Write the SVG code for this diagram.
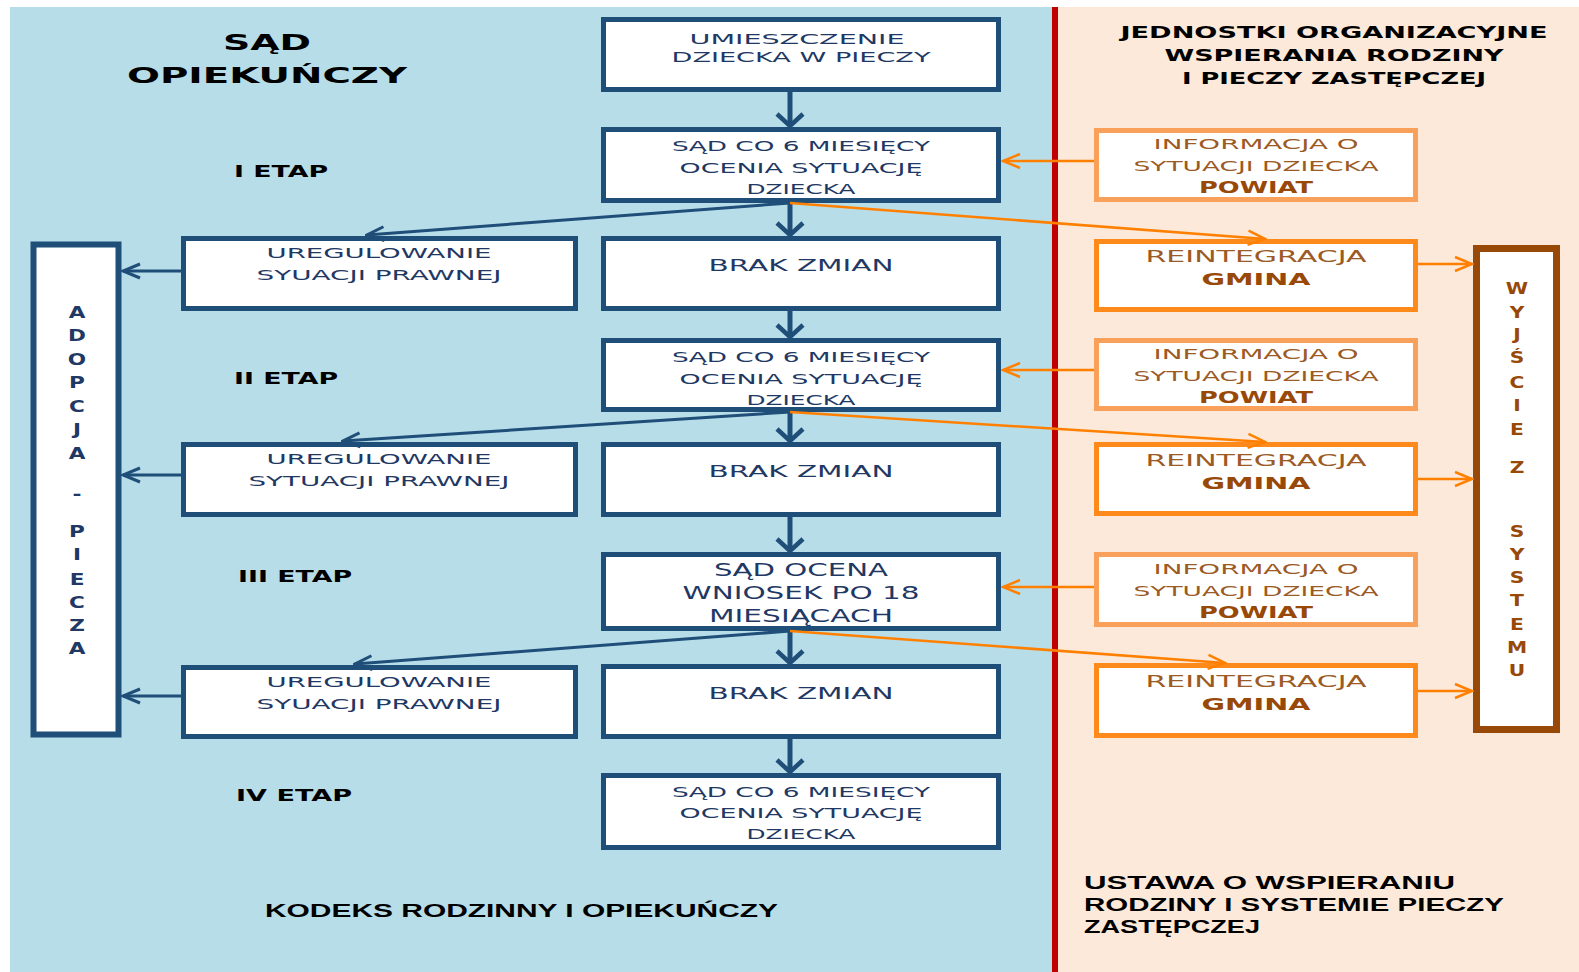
<svg xmlns="http://www.w3.org/2000/svg" width="1579" height="972" viewBox="0 0 1579 972">
<style>
.bx{fill:#fff;stroke:#1f4e79;stroke-width:5}
.ib{fill:#fff;stroke:#f9a05a;stroke-width:5}
.rb{fill:#fff;stroke:#ff8a1c;stroke-width:5}
.wb{fill:#fff;stroke:#984807;stroke-width:7}
.t{font-family:"DejaVu Sans",sans-serif;font-size:14px;fill:#1f3864;text-anchor:middle}
.tl{font-family:"DejaVu Sans",sans-serif;font-size:15px;fill:#1f3864;text-anchor:middle}
.tg{font-family:"DejaVu Sans",sans-serif;font-size:17px;fill:#1f3864;text-anchor:middle}
.ob{font-family:"DejaVu Sans",sans-serif;font-size:14px;fill:#9c5a24;text-anchor:middle}
.obb{font-family:"DejaVu Sans",sans-serif;font-size:15px;font-weight:bold;fill:#984807;text-anchor:middle}
.hd{font-family:"DejaVu Sans",sans-serif;font-size:16px;font-weight:bold;fill:#000;text-anchor:middle}
.ti{font-family:"DejaVu Sans",sans-serif;font-size:22px;font-weight:bold;fill:#000;text-anchor:middle}
.vl{font-family:"DejaVu Sans",sans-serif;font-size:16px;font-weight:bold;fill:#1f3864;text-anchor:middle}
.vr{font-family:"DejaVu Sans",sans-serif;font-size:15px;font-weight:bold;fill:#984807;text-anchor:middle}
.bt{font-family:"Liberation Sans",Arial,sans-serif;font-size:18px;font-weight:bold;fill:#000}
.cv{stroke:#1f4e79;stroke-width:5;fill:none}
.cb{stroke:#1f4e79;stroke-width:3;fill:none}
.co{stroke:#ff8000;stroke-width:2.5;fill:none}
</style>
<defs>
<marker id="mV" markerUnits="userSpaceOnUse" viewBox="-16 -16 32 32" refX="0" refY="0" markerWidth="32" markerHeight="32" orient="auto">
<path d="M-12,-13 L0,0 L-12,13" fill="none" stroke="#1f4e79" stroke-width="4.5"/>
</marker>
<marker id="mB" markerUnits="userSpaceOnUse" viewBox="-20 -10 22 20" refX="0" refY="0" markerWidth="22" markerHeight="20" orient="auto">
<path d="M-17,-7 L0,0 L-17,7" fill="none" stroke="#1f4e79" stroke-width="3"/>
</marker>
<marker id="mO" markerUnits="userSpaceOnUse" viewBox="-20 -10 22 20" refX="0" refY="0" markerWidth="22" markerHeight="20" orient="auto">
<path d="M-17,-7 L0,0 L-17,7" fill="none" stroke="#ff8000" stroke-width="2.5"/>
</marker>
</defs>
<rect x="0" y="0" width="1579" height="972" fill="#fff"/>
<rect x="10" y="7" width="1045" height="965" fill="#b7dde8"/>
<rect x="1055" y="7" width="524" height="965" fill="#fde9d9"/>
<rect x="1052" y="7" width="6" height="965" fill="#c00000"/>

<g id="labels">
<text class="ti" x="267" y="50" textLength="88" lengthAdjust="spacingAndGlyphs">SĄD</text>
<text class="ti" x="267" y="83" textLength="280" lengthAdjust="spacingAndGlyphs">OPIEKUŃCZY</text>
<text class="hd" x="281" y="177" textLength="94" lengthAdjust="spacingAndGlyphs">I ETAP</text>
<text class="hd" x="286" y="384" textLength="104" lengthAdjust="spacingAndGlyphs">II ETAP</text>
<text class="hd" x="295" y="582" textLength="114" lengthAdjust="spacingAndGlyphs">III ETAP</text>
<text class="hd" x="294" y="801" textLength="116" lengthAdjust="spacingAndGlyphs">IV ETAP</text>
<text class="hd" x="1334" y="38" textLength="427" lengthAdjust="spacingAndGlyphs">JEDNOSTKI ORGANIZACYJNE</text>
<text class="hd" x="1334" y="61" textLength="339" lengthAdjust="spacingAndGlyphs">WSPIERANIA RODZINY</text>
<text class="hd" x="1334" y="84" textLength="304" lengthAdjust="spacingAndGlyphs">I PIECZY ZASTĘPCZEJ</text>
<text class="bt" x="265" y="917" textLength="513" lengthAdjust="spacingAndGlyphs">KODEKS RODZINNY I OPIEKUŃCZY</text>
<text class="bt" x="1084" y="889" textLength="371" lengthAdjust="spacingAndGlyphs">USTAWA O WSPIERANIU</text>
<text class="bt" x="1084" y="911" textLength="420" lengthAdjust="spacingAndGlyphs">RODZINY I SYSTEMIE PIECZY</text>
<text class="bt" x="1084" y="933" textLength="176" lengthAdjust="spacingAndGlyphs">ZASTĘPCZEJ</text>
</g>

<g id="n-umieszczenie">
<rect class="bx" x="603.5" y="19.5" width="395" height="70"/>
<text class="t" x="797" y="44" textLength="215" lengthAdjust="spacingAndGlyphs">UMIESZCZENIE</text>
<text class="t" x="801" y="62" textLength="259" lengthAdjust="spacingAndGlyphs">DZIECKA W PIECZY</text>
</g>
<g id="n-sad1">
<rect class="bx" x="603.5" y="129.5" width="395" height="71"/>
<text class="t" x="801" y="151" textLength="258" lengthAdjust="spacingAndGlyphs">SĄD CO 6 MIESIĘCY</text>
<text class="t" x="801" y="173" textLength="243" lengthAdjust="spacingAndGlyphs">OCENIA SYTUACJĘ</text>
<text class="t" x="801" y="194" textLength="109" lengthAdjust="spacingAndGlyphs">DZIECKA</text>
</g>
<g id="n-brak1">
<rect class="bx" x="603.5" y="238.5" width="395" height="70"/>
<text class="tl" x="801" y="271" textLength="185" lengthAdjust="spacingAndGlyphs">BRAK ZMIAN</text>
</g>
<g id="n-sad2">
<rect class="bx" x="603.5" y="340.5" width="395" height="69"/>
<text class="t" x="801" y="362" textLength="258" lengthAdjust="spacingAndGlyphs">SĄD CO 6 MIESIĘCY</text>
<text class="t" x="801" y="384" textLength="243" lengthAdjust="spacingAndGlyphs">OCENIA SYTUACJĘ</text>
<text class="t" x="801" y="405" textLength="109" lengthAdjust="spacingAndGlyphs">DZIECKA</text>
</g>
<g id="n-brak2">
<rect class="bx" x="603.5" y="444.5" width="395" height="70"/>
<text class="tl" x="801" y="477" textLength="185" lengthAdjust="spacingAndGlyphs">BRAK ZMIAN</text>
</g>
<g id="n-sadocena">
<rect class="bx" x="603.5" y="554.5" width="395" height="74"/>
<text class="tg" x="801" y="576" textLength="174" lengthAdjust="spacingAndGlyphs">SĄD OCENA</text>
<text class="tg" x="801" y="599" textLength="237" lengthAdjust="spacingAndGlyphs">WNIOSEK PO 18</text>
<text class="tg" x="801" y="622" textLength="184" lengthAdjust="spacingAndGlyphs">MIESIĄCACH</text>
</g>
<g id="n-brak3">
<rect class="bx" x="603.5" y="666.5" width="395" height="70"/>
<text class="tl" x="801" y="699" textLength="185" lengthAdjust="spacingAndGlyphs">BRAK ZMIAN</text>
</g>
<g id="n-sad4">
<rect class="bx" x="603.5" y="775.5" width="395" height="72"/>
<text class="t" x="801" y="797" textLength="258" lengthAdjust="spacingAndGlyphs">SĄD CO 6 MIESIĘCY</text>
<text class="t" x="801" y="818" textLength="243" lengthAdjust="spacingAndGlyphs">OCENIA SYTUACJĘ</text>
<text class="t" x="801" y="839" textLength="109" lengthAdjust="spacingAndGlyphs">DZIECKA</text>
</g>

<g id="n-ureg1">
<rect class="bx" x="183.5" y="238.5" width="392" height="70"/>
<text class="t" x="379" y="258" textLength="225" lengthAdjust="spacingAndGlyphs">UREGULOWANIE</text>
<text class="t" x="379" y="280" textLength="245" lengthAdjust="spacingAndGlyphs">SYUACJI PRAWNEJ</text>
</g>
<g id="n-ureg2">
<rect class="bx" x="183.5" y="444.5" width="392" height="70"/>
<text class="t" x="379" y="464" textLength="225" lengthAdjust="spacingAndGlyphs">UREGULOWANIE</text>
<text class="t" x="379" y="486" textLength="261" lengthAdjust="spacingAndGlyphs">SYTUACJI PRAWNEJ</text>
</g>
<g id="n-ureg3">
<rect class="bx" x="183.5" y="667.5" width="392" height="69"/>
<text class="t" x="379" y="687" textLength="225" lengthAdjust="spacingAndGlyphs">UREGULOWANIE</text>
<text class="t" x="379" y="709" textLength="245" lengthAdjust="spacingAndGlyphs">SYUACJI PRAWNEJ</text>
</g>

<g id="n-adopcja">
<rect class="bx" x="33.5" y="244.5" width="85" height="490" style="stroke-width:6"/>
<g transform="translate(77 0) scale(1.35 1)">
<text class="vl" x="0" y="318">A</text>
<text class="vl" x="0" y="341">D</text>
<text class="vl" x="0" y="365">O</text>
<text class="vl" x="0" y="388">P</text>
<text class="vl" x="0" y="412">C</text>
<text class="vl" x="0" y="435">J</text>
<text class="vl" x="0" y="459">A</text>
<text class="vl" x="0" y="499">-</text>
<text class="vl" x="0" y="537">P</text>
<text class="vl" x="0" y="560">I</text>
<text class="vl" x="0" y="585">E</text>
<text class="vl" x="0" y="608">C</text>
<text class="vl" x="0" y="631">Z</text>
<text class="vl" x="0" y="654">A</text>
</g>
</g>

<g id="n-info1">
<rect class="ib" x="1096.5" y="130.5" width="319" height="69"/>
<text class="ob" x="1256" y="149" textLength="205" lengthAdjust="spacingAndGlyphs">INFORMACJA O</text>
<text class="ob" x="1256" y="171" textLength="245" lengthAdjust="spacingAndGlyphs">SYTUACJI DZIECKA</text>
<text class="obb" x="1256" y="193" textLength="114" lengthAdjust="spacingAndGlyphs">POWIAT</text>
</g>
<g id="n-reint1">
<rect class="rb" x="1096.5" y="241.5" width="319" height="68"/>
<text class="ob" x="1256" y="262" textLength="221" lengthAdjust="spacingAndGlyphs" style="font-size:15px">REINTEGRACJA</text>
<text class="obb" x="1256" y="285" textLength="109" lengthAdjust="spacingAndGlyphs" style="font-size:16px">GMINA</text>
</g>
<g id="n-info2">
<rect class="ib" x="1096.5" y="340.5" width="319" height="68"/>
<text class="ob" x="1256" y="359" textLength="205" lengthAdjust="spacingAndGlyphs">INFORMACJA O</text>
<text class="ob" x="1256" y="381" textLength="245" lengthAdjust="spacingAndGlyphs">SYTUACJI DZIECKA</text>
<text class="obb" x="1256" y="403" textLength="114" lengthAdjust="spacingAndGlyphs">POWIAT</text>
</g>
<g id="n-reint2">
<rect class="rb" x="1096.5" y="444.5" width="319" height="69"/>
<text class="ob" x="1256" y="466" textLength="221" lengthAdjust="spacingAndGlyphs" style="font-size:15px">REINTEGRACJA</text>
<text class="obb" x="1256" y="489" textLength="109" lengthAdjust="spacingAndGlyphs" style="font-size:16px">GMINA</text>
</g>
<g id="n-info3">
<rect class="ib" x="1096.5" y="554.5" width="319" height="70"/>
<text class="ob" x="1256" y="574" textLength="205" lengthAdjust="spacingAndGlyphs">INFORMACJA O</text>
<text class="ob" x="1256" y="596" textLength="245" lengthAdjust="spacingAndGlyphs">SYTUACJI DZIECKA</text>
<text class="obb" x="1256" y="618" textLength="114" lengthAdjust="spacingAndGlyphs">POWIAT</text>
</g>
<g id="n-reint3">
<rect class="rb" x="1096.5" y="665.5" width="319" height="70"/>
<text class="ob" x="1256" y="687" textLength="221" lengthAdjust="spacingAndGlyphs" style="font-size:15px">REINTEGRACJA</text>
<text class="obb" x="1256" y="710" textLength="109" lengthAdjust="spacingAndGlyphs" style="font-size:16px">GMINA</text>
</g>

<g id="n-wyjscie">
<rect class="wb" x="1476.5" y="248.5" width="80" height="481"/>
<g transform="translate(1517 0) scale(1.35 1)">
<text class="vr" x="0" y="294">W</text>
<text class="vr" x="0" y="318">Y</text>
<text class="vr" x="0" y="340">J</text>
<text class="vr" x="0" y="363">Ś</text>
<text class="vr" x="0" y="388">C</text>
<text class="vr" x="0" y="411">I</text>
<text class="vr" x="0" y="435">E</text>
<text class="vr" x="0" y="473">Z</text>
<text class="vr" x="0" y="537">S</text>
<text class="vr" x="0" y="560">Y</text>
<text class="vr" x="0" y="583">S</text>
<text class="vr" x="0" y="606">T</text>
<text class="vr" x="0" y="630">E</text>
<text class="vr" x="0" y="653">M</text>
<text class="vr" x="0" y="676">U</text>
</g>
</g>

<g id="connectors">
<line class="cv" x1="790" y1="92" x2="790" y2="126" marker-end="url(#mV)"/>
<line class="cv" x1="790" y1="203" x2="790" y2="235" marker-end="url(#mV)"/>
<line class="cv" x1="790" y1="311" x2="790" y2="337" marker-end="url(#mV)"/>
<line class="cv" x1="790" y1="412" x2="790" y2="441" marker-end="url(#mV)"/>
<line class="cv" x1="790" y1="517" x2="790" y2="551" marker-end="url(#mV)"/>
<line class="cv" x1="790" y1="631" x2="790" y2="663" marker-end="url(#mV)"/>
<line class="cv" x1="790" y1="739" x2="790" y2="772" marker-end="url(#mV)"/>
<line class="cb" x1="790" y1="203" x2="367" y2="235" marker-end="url(#mB)"/>
<line class="cb" x1="790" y1="412" x2="343" y2="441" marker-end="url(#mB)"/>
<line class="cb" x1="790" y1="631" x2="355" y2="664" marker-end="url(#mB)"/>
<line class="cb" x1="181" y1="271" x2="123" y2="271" marker-end="url(#mB)"/>
<line class="cb" x1="181" y1="475" x2="123" y2="475" marker-end="url(#mB)"/>
<line class="cb" x1="181" y1="696" x2="123" y2="696" marker-end="url(#mB)"/>
<line class="co" x1="790" y1="203" x2="1265" y2="239" marker-end="url(#mO)"/>
<line class="co" x1="790" y1="412" x2="1265" y2="442" marker-end="url(#mO)"/>
<line class="co" x1="790" y1="631" x2="1225" y2="663" marker-end="url(#mO)"/>
<line class="co" x1="1094" y1="161" x2="1003" y2="161" marker-end="url(#mO)"/>
<line class="co" x1="1094" y1="370" x2="1003" y2="370" marker-end="url(#mO)"/>
<line class="co" x1="1094" y1="587" x2="1003" y2="587" marker-end="url(#mO)"/>
<line class="co" x1="1418" y1="264" x2="1472" y2="264" marker-end="url(#mO)"/>
<line class="co" x1="1418" y1="479" x2="1472" y2="479" marker-end="url(#mO)"/>
<line class="co" x1="1418" y1="691" x2="1472" y2="691" marker-end="url(#mO)"/>
</g>
</svg>
